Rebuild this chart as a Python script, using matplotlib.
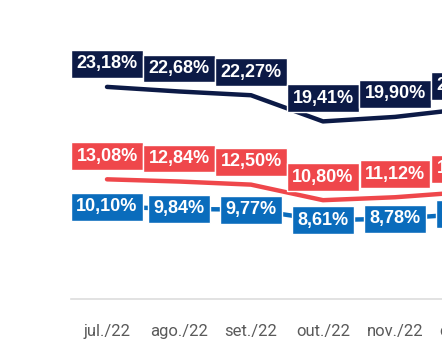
import matplotlib
matplotlib.use("Agg")
import matplotlib.pyplot as plt

categories = ["jul./22", "ago./22", "set./22", "out./22", "nov./22", "dez./22"]
navy_vals = [23.18, 22.68, 22.27, 19.41, 19.90, 20.80]
red_vals = [13.08, 12.84, 12.50, 10.80, 11.12, 11.70]
blue_vals = [10.10, 9.84, 9.77, 8.61, 8.78, 9.30]

navy = "#0c1a46"
red = "#ef474b"
blue = "#0a6cbc"

W, H = 442, 343
fig = plt.figure(figsize=(W / 100, H / 100), dpi=100)
ax_left = 71 / W
ax_w = 432 / W
ax_bottom = (H - 299) / H
ax_h = 299 / H
ax = fig.add_axes([ax_left, ax_bottom, ax_w, ax_h])
px_per_unit = 9.15
ax.set_xlim(-0.5, len(categories) - 0.5)
ax.set_ylim(0, 299 / px_per_unit)

x = list(range(len(categories)))

def fmt(v):
    return f"{v:.2f}".replace(".", ",") + "%"

for vals, col, off in [(navy_vals, navy, 23), (red_vals, red, 23), (blue_vals, blue, 0)]:
    ax.plot(x, vals, color=col, lw=3.2, solid_capstyle="round", zorder=2)
    for xi, v in zip(x, vals):
        ax.annotate(fmt(v), (xi, v), xytext=(0, off * 72 / 100), textcoords="offset points",
                    ha="center", va="center", color="white", fontsize=13,
                    fontweight="bold", family="Liberation Sans", zorder=3,
                    bbox=dict(boxstyle="square,pad=0.3", fc=col, ec="white", lw=1),
                    annotation_clip=False)

for s in ["top", "right", "left"]:
    ax.spines[s].set_visible(False)
ax.spines["bottom"].set_color("#dddddd")
ax.spines["bottom"].set_linewidth(1.2)
ax.set_yticks([])
ax.set_xticks(x)
ax.set_xticklabels(categories, family="Roboto", fontsize=12, color="#5a5a5a")
ax.tick_params(axis="x", length=0, pad=18)

fig.savefig("out.png", dpi=100)
